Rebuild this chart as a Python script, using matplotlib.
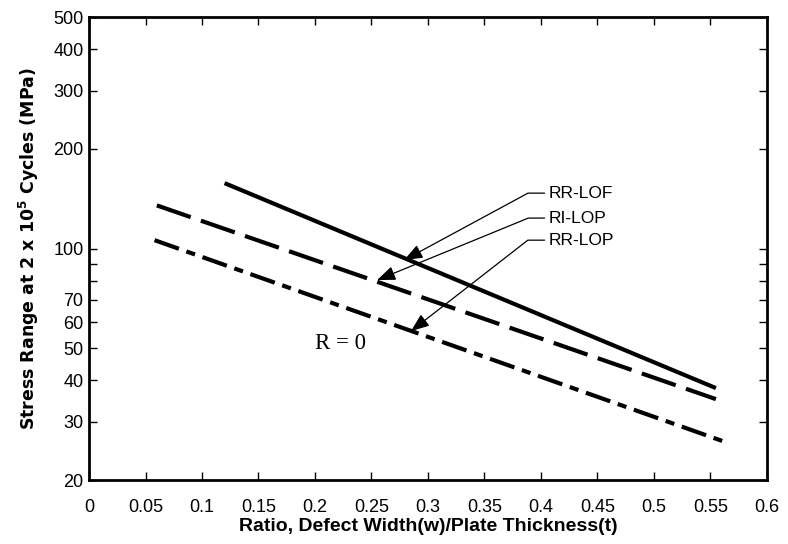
import matplotlib
matplotlib.use("Agg")
import matplotlib.pyplot as plt
import numpy as np

plt.rcParams['font.family'] = ['Liberation Sans', 'DejaVu Sans']
plt.rcParams['mathtext.default'] = 'regular'

# values
rr_lof_x = [0.12, 0.555]
rr_lof_y = [157.6, 37.9]
ri_lop_x = [0.06, 0.555]
ri_lop_y = [135, 35.1]
rr_lop_x = [0.058, 0.564]
rr_lop_y = [106, 26.0]

x_ticks = [0, 0.05, 0.1, 0.15, 0.2, 0.25, 0.3, 0.35, 0.4, 0.45, 0.5, 0.55, 0.6]
x_tick_labels = ['0', '0.05', '0.1', '0.15', '0.2', '0.25', '0.3', '0.35', '0.4', '0.45', '0.5', '0.55', '0.6']
y_ticks = [20, 30, 40, 50, 60, 70, 80, 90, 100, 200, 300, 400, 500]
y_tick_labels = ['20', '30', '40', '50', '60', '70', '', '', '100', '200', '300', '400', '500']

# annotation: label, text pos, arrow tip, angle of the leader
notes = [('RR-LOF', (0.407, 147), (0.279, 92.3), 28.4),
         ('RI-LOP', (0.407, 123.6), (0.255, 80.3), 22.3),
         ('RR-LOP', (0.407, 106), (0.285, 56.3), 37.9)]

fig = plt.figure(figsize=(7.88, 5.44), dpi=100)
ax = fig.add_axes([0.113, 0.1176, 0.860, 0.851])

ax.plot(rr_lof_x, rr_lof_y, color='black', lw=3, solid_capstyle='butt')
ax.plot(ri_lop_x, ri_lop_y, color='black', lw=3, linestyle=(0, (8.6, 2.6)), dash_capstyle='butt')
ax.plot(rr_lop_x, rr_lop_y, color='black', lw=3, linestyle=(0, (6.2, 1.9, 2.2, 1.9)), dash_capstyle='butt')

ax.set_yscale('log')
ax.set_xlim(0, 0.6)
ax.set_ylim(20, 500)
ax.set_xticks(x_ticks)
ax.set_xticklabels(x_tick_labels)
ax.set_yticks(y_ticks)
ax.set_yticklabels(y_tick_labels)
ax.yaxis.set_minor_locator(matplotlib.ticker.NullLocator())
ax.tick_params(direction='in', length=6, width=1, top=True, right=True, labelsize=13)
ax.tick_params(axis='x', pad=14)
ax.tick_params(axis='y', pad=4)
for s in ax.spines.values():
    s.set_linewidth(2)

for lab, xyt, xy, ang in notes:
    ax.annotate(lab, xy=xy, xytext=xyt, ha='left', va='center', fontsize=12.5,
                arrowprops=dict(arrowstyle='-|>,head_length=0.9,head_width=0.35', color='black', lw=0.9,
                                relpos=(0, 0.5), shrinkA=1, shrinkB=0,
                                connectionstyle='angle,angleA=0,angleB=%s,rad=0' % ang))

ax.text(0.223, 51.8, 'R = 0', family=['Liberation Serif', 'DejaVu Serif'], fontsize=16.5,
        ha='center', va='center')

ax.set_xlabel('Ratio, Defect Width(w)/Plate Thickness(t)', fontsize=14, fontweight='bold', labelpad=1)
ax.set_ylabel('Stress Range at 2 x 10$^5$ Cycles (MPa)', fontsize=12.5, fontweight='bold',
              family=['DejaVu Sans'], labelpad=9)

fig.savefig('out.png', dpi=100)
